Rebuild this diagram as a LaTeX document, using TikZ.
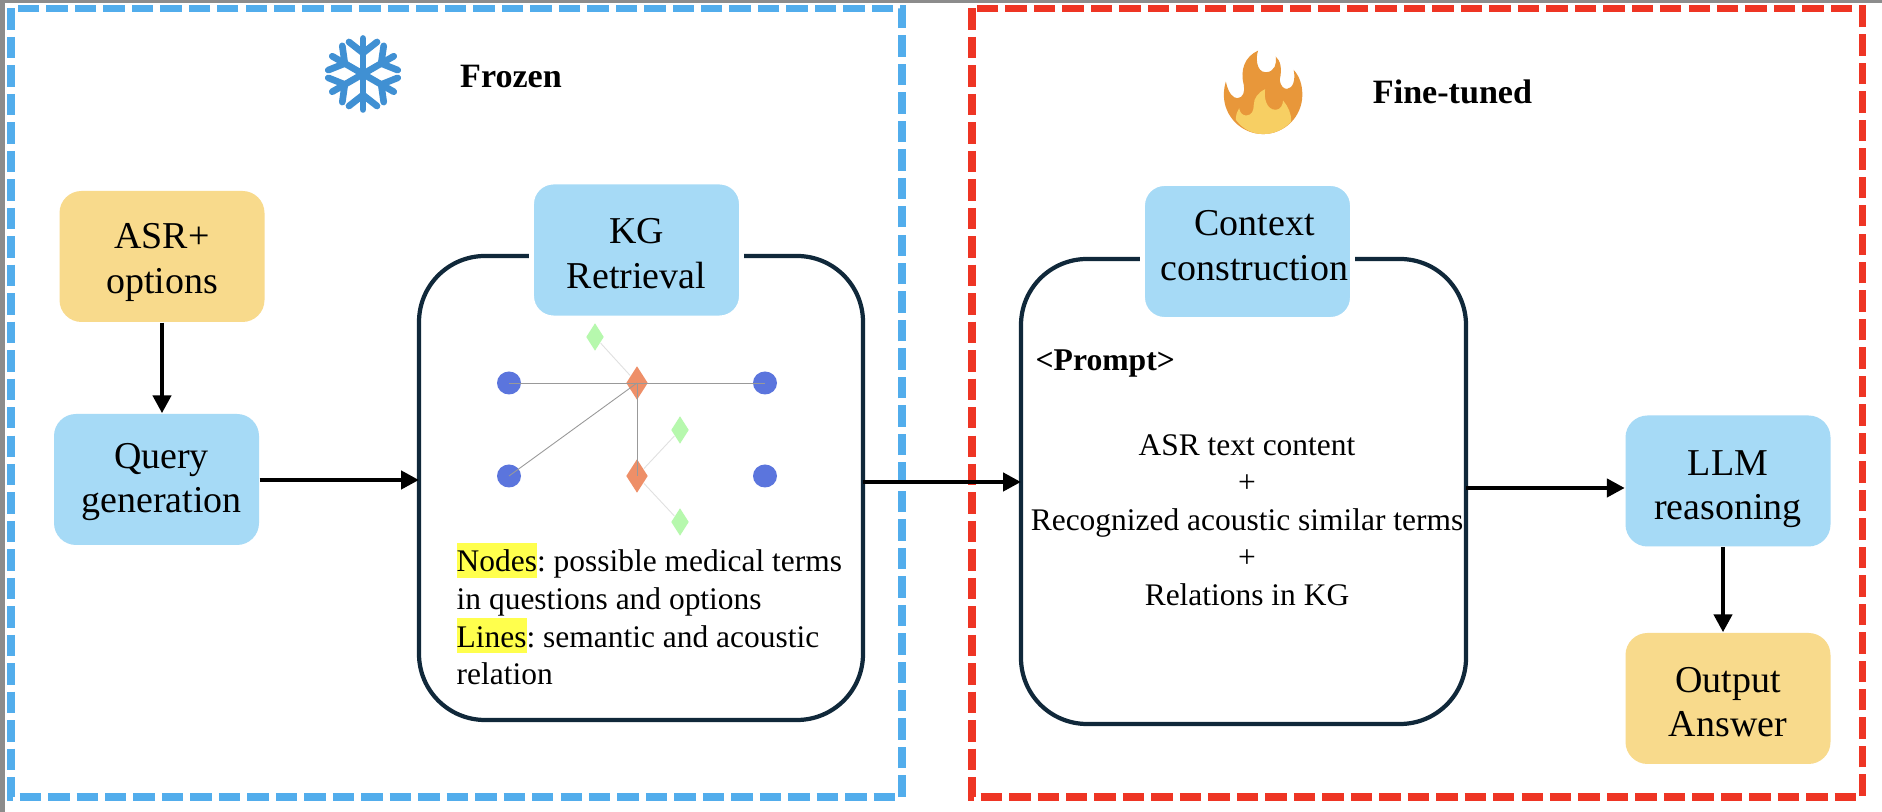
\documentclass[tikz,border=0pt]{standalone}
\usepackage{fontspec}
\setmainfont{Liberation Serif}
\usetikzlibrary{arrows.meta, positioning, shapes.geometric}
\definecolor{boxblue}{HTML}{A6DAF6}
\definecolor{boxyellow}{HTML}{F8DA8C}
\definecolor{navy}{HTML}{10283A}
\definecolor{frozenblue}{HTML}{52ADEC}
\definecolor{tunedred}{HTML}{EE3524}
\definecolor{flakeblue}{HTML}{4090D3}
\definecolor{flameorange}{HTML}{E8973A}
\definecolor{flameyellow}{HTML}{F7CF63}
\definecolor{entityblue}{HTML}{5B75DD}
\definecolor{hubcoral}{HTML}{EE8F68}
\definecolor{leafgreen}{HTML}{B6F8AD}
\definecolor{marker}{HTML}{FFFF4D}
\newcommand{\marked}[1]{{\setlength{\fboxsep}{0pt}\colorbox{marker}{\rule[-1.7pt]{0pt}{10pt}#1}}}

\begin{document}
\begin{tikzpicture}[
    stage/.style={draw=none, fill=boxblue, rounded corners=0.22cm,
                  minimum width=2.05cm, minimum height=1.31cm},
    ioput/.style={stage, fill=boxyellow},
    title/.style={draw=white, line width=1.4pt,
                  minimum width=2.1cm, minimum height=1.36cm},
    caption/.style={align=center, inner sep=0pt, font=\fontsize{10.8}{12.6}\selectfont},
    panel/.style={draw=navy, line width=1.2pt, rounded corners=0.66cm},
    region/.style={line width=2pt, dash pattern=on 6.1pt off 2pt},
    flow/.style={-{Triangle[length=0.18cm, width=0.18cm]}, line width=1.25pt},
    entity/.style={ellipse, fill=entityblue, inner sep=0pt,
                   minimum width=0.24cm, minimum height=0.23cm},
    hub/.style={diamond, fill=hubcoral, inner sep=0pt,
                minimum width=0.22cm, minimum height=0.34cm},
    leaf/.style={diamond, fill=leafgreen, inner sep=0pt,
                 minimum width=0.18cm, minimum height=0.28cm},
    solidrel/.style={draw=black!40, line width=0.25pt},
    softrel/.style={draw=black!12, line width=0.25pt},
    head/.style={font=\fontsize{9.7}{11}\selectfont\bfseries},
    body/.style={font=\fontsize{8.95}{10.7}\selectfont\frenchspacing}
  ]
  \useasboundingbox (0, 0) rectangle (18.82, 8.12);
  % screenshot edge
  \fill[black!45] (0, 0) rectangle (18.82, 8.12);
  \fill[white] (0.05, 0) rectangle (18.82, 8.09);

  % dashed regions
  \draw[region, draw=frozenblue] (0.11, 8.035) rectangle (9.02, 0.15);
  \draw[region, draw=tunedred] (9.72, 8.035) rectangle (18.62, 0.15);

  % rounded panels
  \draw[panel] (4.19, 5.56) rectangle (8.63, 0.92);
  \draw[panel] (10.21, 5.53) rectangle (14.66, 0.88);
  \coordinate (panelaw) at (4.19, 3.32);
  \coordinate (panelae) at (8.63, 3.30);
  \coordinate (panelbw) at (10.21, 3.30);
  \coordinate (panelbe) at (14.66, 3.24);

  % boxes
  \node[ioput] (asr) at (1.62, 5.555) {};
  \node[stage] (query) at (1.565, 3.325) {};
  \node[stage, title] (kg) at (6.365, 5.62) {};
  \node[stage, title] (context) at (12.475, 5.605) {};
  \node[stage] (llm) at (17.28, 3.31) {};
  \node[ioput] (answer) at (17.28, 1.135) {};

  % box captions
  \node[caption] (asrtext) at (1.62, 5.495) {ASR+\\options};
  \node[caption] (querytext) at (1.615, 3.30) {Query\\generation};
  \node[caption] (kgtext) at (6.365, 5.584) {KG\\Retrieval};
  \node[caption] (contexttext) at (12.545, 5.665) {Context\\construction};
  \node[caption] (llmtext) at (17.28, 3.226) {LLM\\reasoning};
  \node[caption] (answertext) at (17.28, 1.10) {Output\\Answer};

  % headings
  \node[head] (frozen) at (5.11, 7.35) {Frozen};
  \node[head] (tuned) at (14.525, 7.2) {Fine-tuned};

  % small graph
  \node[entity] (e1) at (5.09, 4.29) {};
  \node[entity] (e2) at (7.65, 4.29) {};
  \node[entity] (e3) at (5.09, 3.36) {};
  \node[entity] (e4) at (7.65, 3.36) {};
  \node[hub] (h1) at (6.37, 4.29) {};
  \node[hub] (h2) at (6.37, 3.36) {};
  \node[leaf] (l1) at (5.95, 4.75) {};
  \node[leaf] (l2) at (6.80, 3.82) {};
  \node[leaf] (l3) at (6.80, 2.90) {};
  \draw[solidrel] (e1.center) -- (h1.center);
  \draw[solidrel] (h1.center) -- (e2.center);
  \draw[solidrel] (e3.center) -- (h1.center);
  \draw[solidrel] (h1.center) -- (h2.center);
  \draw[softrel] (l1) -- (h1);
  \draw[softrel] (l2) -- (h2);
  \draw[softrel] (l3) -- (h2);

  % panel texts
  \node[body, align=left, anchor=north west, inner sep=0pt] (legend) at (4.56, 2.70)
    {\marked{Nodes}: possible medical terms\\
     in questions and options\\
     \marked{Lines}: semantic and acoustic\\
     relation};
  \node[anchor=west, inner sep=0pt, font=\fontsize{9}{10.7}\selectfont\bfseries] (prompt) at (10.35, 4.48) {<Prompt>};
  \node[body, align=center, inner sep=0pt] (content) at (12.47, 2.92)
    {ASR text content\\+\\Recognized acoustic similar terms\\+\\Relations in KG};

  % arrows
  \draw[flow] (asr) -- (asr |- query.north);
  \draw[flow] (query.east |- panelaw) -- (panelaw);
  \draw[flow] (panelae) -- (panelbw);
  \draw[flow] (panelbe) -- (llm.west |- panelbe);
  \draw[flow] ([xshift=-0.05cm]llm.south) -- ([xshift=-0.05cm]answer.north);

  % snowflake
  \begin{scope}[shift={(3.63, 7.38)}, flakeblue, line width=1.9pt, line cap=round]
    \foreach \a in {30, 90, ..., 330} {
      \draw[rotate=\a] (0, 0) -- (0.355, 0);
      \draw[rotate=\a] (0.21, 0) -- (0.32, 0.14);
      \draw[rotate=\a] (0.21, 0) -- (0.32, -0.14);
    }
  \end{scope}

  % flame, in the units of a 3x crop
  \begin{scope}[shift={(11.5, 7.82)}, x=0.00333cm, y=-0.00333cm]
    \fill[flameorange] (325, 62) .. controls (318, 80) and (318, 127) .. (348, 127)
      .. controls (375, 127) and (382, 100) .. (378, 80)
      .. controls (392, 92) and (398, 115) .. (390, 150)
      .. controls (392, 168) and (402, 178) .. (412, 177)
      .. controls (430, 176) and (438, 150) .. (432, 120)
      .. controls (450, 140) and (458, 165) .. (458, 195)
      .. controls (458, 260) and (405, 313) .. (340, 313)
      .. controls (275, 313) and (222, 260) .. (222, 195)
      .. controls (222, 180) and (225, 165) .. (228, 155)
      .. controls (235, 190) and (250, 205) .. (262, 205)
      .. controls (280, 205) and (286, 185) .. (282, 165)
      .. controls (270, 120) and (285, 80) .. (325, 62) -- cycle;
    \fill[flameyellow] (258, 270) .. controls (258, 255) and (262, 245) .. (268, 235)
      .. controls (270, 250) and (280, 258) .. (290, 257)
      .. controls (305, 256) and (312, 245) .. (312, 225)
      .. controls (312, 205) and (325, 188) .. (346, 178)
      .. controls (342, 205) and (350, 240) .. (378, 240)
      .. controls (392, 240) and (400, 225) .. (400, 212)
      .. controls (415, 230) and (426, 252) .. (424, 276)
      .. controls (402, 300) and (372, 313) .. (340, 313)
      .. controls (306, 313) and (278, 297) .. (258, 270) -- cycle;
  \end{scope}
\end{tikzpicture}
\end{document}
